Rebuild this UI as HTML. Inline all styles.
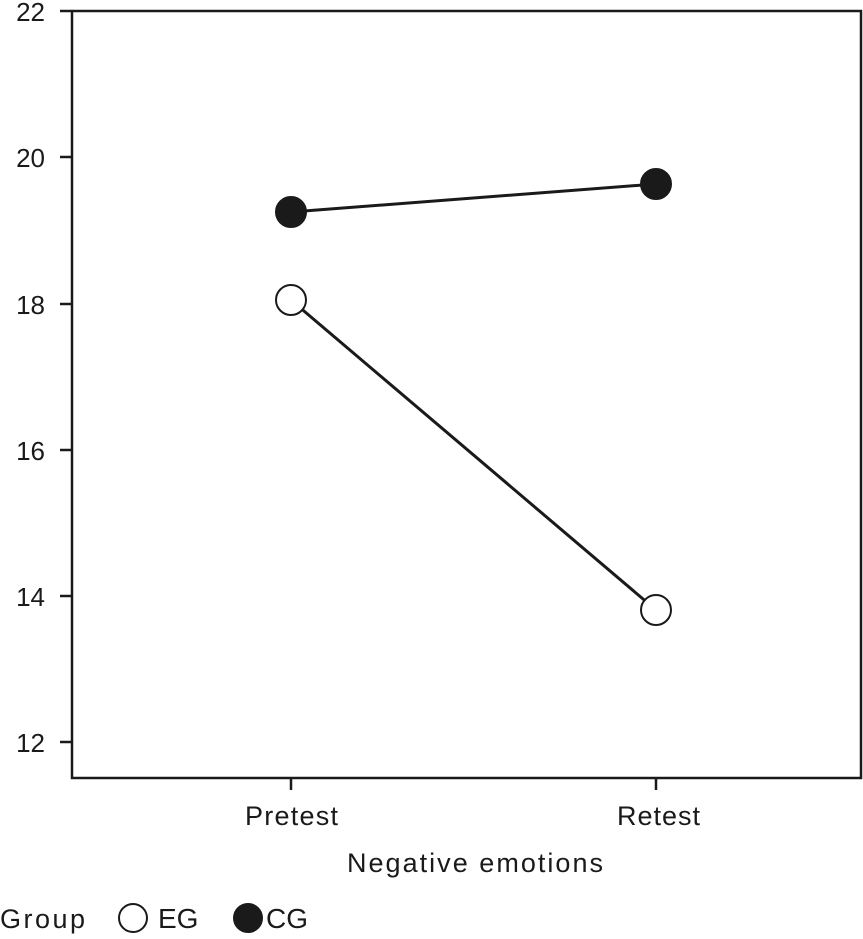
<!DOCTYPE html>
<html><head><style>body{margin:0;background:#fff}svg{display:block}</style></head><body>
<svg width="863" height="939" xmlns="http://www.w3.org/2000/svg" font-family="Liberation Sans, sans-serif" font-size="27" fill="#1a1a1a">
<g stroke="#1a1a1a" stroke-width="2.5" fill="none">
<path d="M72,11 V778 H861 V11 H60"/>
<path d="M60,157H72 M60,304H72 M60,450H72 M60,596H72 M60,742H72"/>
<path d="M291,778V790 M656,778V790"/>
<path d="M291,212L656,184" stroke-width="3"/>
<path d="M291,300L656,610" stroke-width="3"/>
</g>
<g stroke="#1a1a1a" stroke-width="2">
<circle cx="291" cy="212" r="15" fill="#1a1a1a"/>
<circle cx="656" cy="184" r="15" fill="#1a1a1a"/>
<circle cx="291" cy="300" r="15" fill="#fff"/>
<circle cx="656" cy="610" r="15" fill="#fff"/>
<circle cx="133" cy="918" r="14" fill="#fff"/>
<circle cx="248" cy="918" r="14" fill="#1a1a1a"/>
</g>
<g text-anchor="end" font-size="26">
<text x="45" y="21">22</text><text x="45" y="167">20</text><text x="45" y="314">18</text>
<text x="45" y="460">16</text><text x="45" y="606">14</text><text x="45" y="752">12</text>
</g>
<g>
<text x="245" y="825" textLength="93">Pretest</text><text x="617" y="825" textLength="83">Retest</text>
<text x="347" y="872" textLength="256">Negative emotions</text>
<text x="0" y="928" textLength="85">Group</text>
<text x="158" y="928" font-size="28">EG</text>
<text x="266" y="928" font-size="28">CG</text>
</g>
</svg>
</body></html>
